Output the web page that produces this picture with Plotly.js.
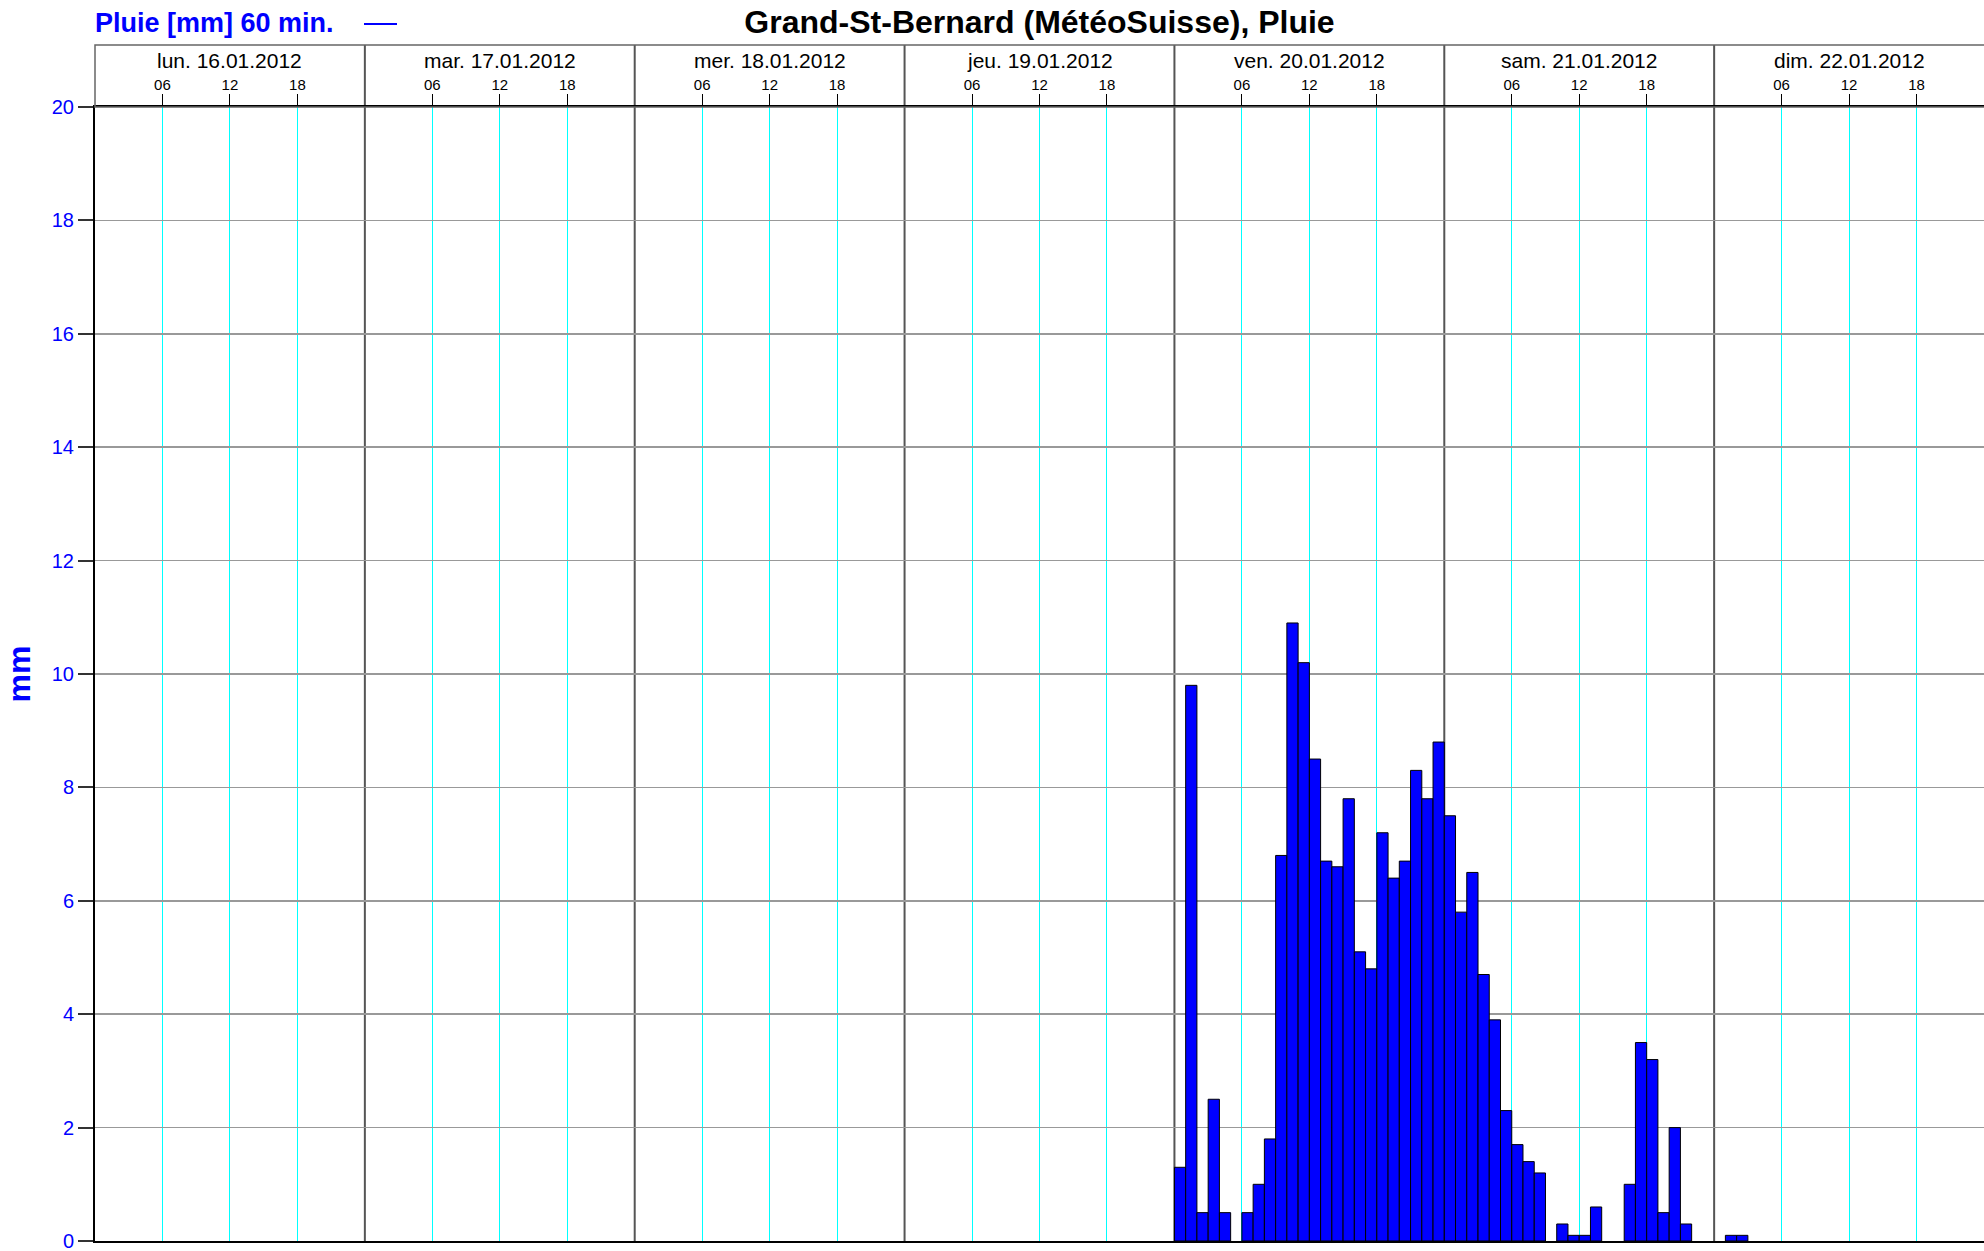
<!DOCTYPE html>
<html>
<head>
<meta charset="utf-8">
<script src="https://cdn.plot.ly/plotly-3.0.1.min.js"></script>
<style>html,body{margin:0;padding:0;background:#fff;}#chart{width:1984px;height:1251px;}</style>
</head>
<body>
<div id="chart"></div>
<script>
// ---- data (hourly rain, mm per 60 min) ----
var dayDates = ['2012-01-16','2012-01-17','2012-01-18','2012-01-19','2012-01-20','2012-01-21','2012-01-22'];
var dayLabels = ['lun. 16.01.2012','mar. 17.01.2012','mer. 18.01.2012','jeu. 19.01.2012','ven. 20.01.2012','sam. 21.01.2012','dim. 22.01.2012'];
var hourTicks = ['06','12','18'];
// hourly values, index = hour of the day (bar covers hour h .. h+1)
var rainJan20 = [1.3, 9.8, 0.5, 2.5, 0.5, 0, 0.5, 1.0, 1.8, 6.8, 10.9, 10.2, 8.5, 6.7, 6.6, 7.8, 5.1, 4.8, 7.2, 6.4, 6.7, 8.3, 7.8, 8.8];
var rainJan21 = [7.5, 5.8, 6.5, 4.7, 3.9, 2.3, 1.7, 1.4, 1.2, 0, 0.3, 0.1, 0.1, 0.6, 0, 0, 1.0, 3.5, 3.2, 0.5, 2.0, 0.3, 0, 0];
var rainJan22 = [0, 0.1, 0.1, 0, 0, 0, 0, 0, 0, 0, 0, 0, 0, 0, 0, 0, 0, 0, 0, 0, 0, 0, 0, 0];
var rainDays = {'2012-01-20': rainJan20, '2012-01-21': rainJan21, '2012-01-22': rainJan22};

var FONT = 'Liberation Sans, Arial, Helvetica, sans-serif';
function pad(n){return (n<10?'0':'')+n;}

var xs = [], ys = [];
Object.keys(rainDays).forEach(function(d){
  rainDays[d].forEach(function(v,h){
    if (v > 0) { xs.push(d + ' ' + pad(h) + ':00'); ys.push(v); }
  });
});

var tickvals = [], ticktext = [];
dayDates.forEach(function(d){
  hourTicks.forEach(function(h){ tickvals.push(d + ' ' + h + ':00'); ticktext.push(h); });
});

function paperY(px){ return (1241 - px) / 1134; }

var shapes = [];
// header box
shapes.push({type:'rect', xref:'paper', yref:'paper', x0:0, x1:1.002, y0:1, y1:paperY(45),
  line:{color:'#666', width:1.5}, fillcolor:'rgba(0,0,0,0)', layer:'above'});
// day separators
dayDates.slice(1).forEach(function(d){
  shapes.push({type:'line', xref:'x', yref:'paper', x0:d+' 00:00', x1:d+' 00:00', y0:0, y1:paperY(45),
    line:{color:'#555', width:2}, layer:'between'});
});
// legend sample line
shapes.push({type:'line', xref:'paper', yref:'paper', x0:(364-95)/1889, x1:(397-95)/1889,
  y0:paperY(24), y1:paperY(24), line:{color:'#0000ff', width:2}});

var annotations = dayDates.map(function(d,i){
  return {xref:'x', yref:'paper', x:d+' 12:00', y:paperY(61), text:dayLabels[i], showarrow:false,
    xanchor:'center', yanchor:'middle', font:{family:FONT, size:21, color:'#000'}};
});
annotations.push({xref:'paper', yref:'paper', x:0, y:paperY(23), xanchor:'left', yanchor:'middle', xshift:-2,
  text:'<b>Pluie [mm] 60 min.</b>', showarrow:false, font:{family:FONT, size:27, color:'#0000ff'}});

var trace = {
  type:'bar', x:xs, y:ys, width:3600000, offset:0,
  marker:{color:'#0000ff', line:{color:'#000', width:1}},
  hoverinfo:'x+y'
};

var layout = {
  width:1984, height:1251,
  margin:{l:95, r:0, t:107, b:10, pad:0},
  paper_bgcolor:'#fff', plot_bgcolor:'#fff',
  showlegend:false,
  bargap:0,
  font:{family:FONT},
  title:{text:'<b>Grand-St-Bernard (MétéoSuisse), Pluie</b>', font:{family:FONT, size:32, color:'#000'},
    x:0.5, xref:'paper', xanchor:'center', y:1-22/1251, yref:'container', yanchor:'middle'},
  xaxis:{type:'date', range:['2012-01-16 00:00','2012-01-23 00:00'], side:'top',
    tickmode:'array', tickvals:tickvals, ticktext:ticktext,
    ticks:'outside', ticklen:11, tickwidth:1, tickcolor:'#000',
    tickfont:{family:FONT, size:15, color:'#000'}, ticklabelstandoff:-2,
    showgrid:true, gridcolor:'#00ffff', gridwidth:1,
    showline:true, linecolor:'#000', linewidth:2, mirror:true,
    zeroline:false, fixedrange:true},
  yaxis:{range:[0,20], tickmode:'linear', tick0:0, dtick:2,
    ticks:'outside', ticklen:15, tickwidth:2, tickcolor:'#333',
    tickfont:{family:FONT, size:20, color:'#0000ff'}, ticklabeloverflow:'allow',
    showgrid:true, gridcolor:'#999', gridwidth:1.5,
    showline:true, linecolor:'#000', linewidth:2,
    zeroline:false, fixedrange:true,
    title:{text:'<b>mm</b>', font:{family:FONT, size:32, color:'#0000ff'}, standoff:12}},
  shapes:shapes,
  annotations:annotations
};

Plotly.newPlot('chart', [trace], layout, {displayModeBar:false, staticPlot:true});
</script>
</body>
</html>
